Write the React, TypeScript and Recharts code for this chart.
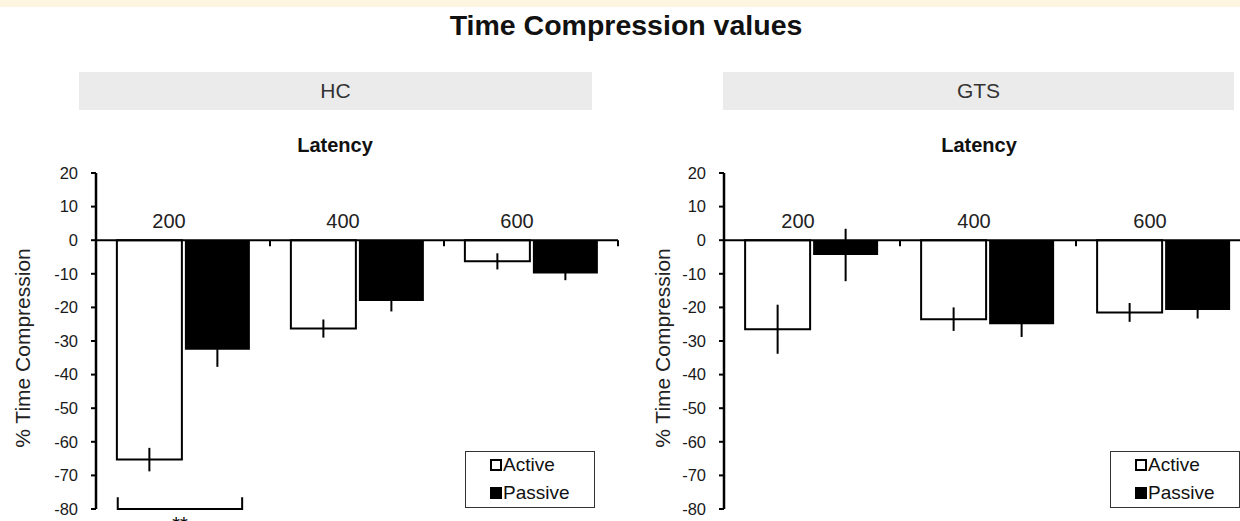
import {
  Bar,
  BarChart,
  ErrorBar,
  Legend,
  ReferenceArea,
  ReferenceLine,
  XAxis,
  YAxis,
} from "recharts";

const LATENCIES = ["200", "400", "600"];
const Y_TICKS = [20, 10, 0, -10, -20, -30, -40, -50, -60, -70, -80];
const Y_MIN = -80;
const Y_MAX = 20;

const HC_ACTIVE = [-65.3, -26.3, -6.3];
const HC_ACTIVE_ERR = [3.5, 2.7, 2.4];
const HC_PASSIVE = [-32.6, -18.1, -9.9];
const HC_PASSIVE_ERR = [5.1, 3.1, 2.0];

const GTS_ACTIVE = [-26.5, -23.5, -21.5];
const GTS_ACTIVE_ERR = [7.3, 3.5, 2.8];
const GTS_PASSIVE = [-4.4, -25.0, -20.8];
const GTS_PASSIVE_ERR = [7.8, 3.8, 2.5];

const CHART_H = 521;
const X_AXIS_H = 1;
const MARGIN_TOP = 172;
const MARGIN_BOTTOM = 12;
const MARGIN_RIGHT = 2;
const Y_AXIS_W = 60;
const PLOT_H = CHART_H - MARGIN_TOP - X_AXIS_H - MARGIN_BOTTOM;

const FONT = '"Liberation Sans", Arial, Helvetica, sans-serif';

type Row = {
  latency: string;
  active: number;
  activeErr: number;
  passive: number;
  passiveErr: number;
};

function buildRows(active: number[], activeErr: number[], passive: number[], passiveErr: number[]): Row[] {
  return LATENCIES.map((latency, i) => ({
    latency,
    active: active[i],
    activeErr: activeErr[i],
    passive: passive[i],
    passiveErr: passiveErr[i],
  }));
}

const hcRows = buildRows(HC_ACTIVE, HC_ACTIVE_ERR, HC_PASSIVE, HC_PASSIVE_ERR);
const gtsRows = buildRows(GTS_ACTIVE, GTS_ACTIVE_ERR, GTS_PASSIVE, GTS_PASSIVE_ERR);

// category labels sit just above the zero line, with a small tick at each band's right edge
function LatencyTick(props: any) {
  const { x, y, payload, band } = props;
  const zeroY = y + (Y_MAX / (Y_MAX - Y_MIN)) * PLOT_H;
  return (
    <g>
      <text x={x - 14} y={zeroY - 19} textAnchor="middle" dominantBaseline="central" fontSize={20} fill="#222">
        {payload.value}
      </text>
      <line x1={x + band / 2} x2={x + band / 2} y1={zeroY} y2={zeroY + 6} stroke="#000" strokeWidth={2} />
    </g>
  );
}

function YTitle(props: any) {
  const { viewBox, gap } = props;
  const cx = viewBox.x + viewBox.width - gap;
  const cy = viewBox.y + viewBox.height / 2 + 7;
  return (
    <text
      x={cx}
      y={cy}
      transform={`rotate(-90 ${cx} ${cy})`}
      textAnchor="middle"
      dominantBaseline="central"
      fontSize={21}
      fill="#222"
    >
      % Time Compression
    </text>
  );
}

function Bracket(props: any) {
  const { x, y, width, height } = props;
  const x1 = x + width * 0.125;
  const x2 = x + width * 0.84;
  const yb = y + height;
  return (
    <g>
      <path d={`M${x1},${y} V${yb} H${x2} V${y}`} fill="none" stroke="#000" strokeWidth={2} />
      <text x={(x1 + x2) / 2} y={yb + 22} textAnchor="middle" fontSize={20} fill="#000">
        **
      </text>
    </g>
  );
}

function LegendBox(props: any) {
  const payload = props.payload ?? [];
  return (
    <div
      style={{
        position: "relative",
        width: 130,
        height: 57,
        border: "1.5px solid #333",
        boxSizing: "border-box",
        background: "#fff",
        fontFamily: FONT,
      }}
    >
      {payload.map((entry: any, i: number) => (
        <div
          key={entry.value}
          style={{
            position: "absolute",
            left: 24,
            top: 2 + i * 28,
            height: 22,
            display: "flex",
            alignItems: "center",
            fontSize: 19,
            color: "#111",
          }}
        >
          <span
            style={{
              display: "inline-block",
              width: 12,
              height: 12,
              background: entry.color,
              border: "2px solid #000",
              boxSizing: "border-box",
              marginRight: 1,
            }}
          />
          {entry.value}
        </div>
      ))}
    </div>
  );
}

type PanelProps = {
  rows: Row[];
  left: number;
  width: number;
  marginLeft: number;
  titleGap: number;
  legendLeft: number;
  bracket?: boolean;
};

function Panel({ rows, left, width, marginLeft, titleGap, legendLeft, bracket }: PanelProps) {
  const band = (width - marginLeft - Y_AXIS_W - MARGIN_RIGHT) / LATENCIES.length;
  return (
    <div style={{ position: "absolute", left, top: 0 }}>
      <BarChart
        width={width}
        height={CHART_H}
        data={rows}
        margin={{ top: MARGIN_TOP, right: MARGIN_RIGHT, bottom: MARGIN_BOTTOM, left: marginLeft }}
        barGap={3}
        barCategoryGap="12%"
      >
        <XAxis
          dataKey="latency"
          orientation="top"
          height={X_AXIS_H}
          axisLine={false}
          tickLine={false}
          tickSize={0}
          tickMargin={0}
          interval={0}
          tick={<LatencyTick band={band} />}
        />
        <YAxis
          type="number"
          domain={[Y_MIN, Y_MAX]}
          ticks={Y_TICKS}
          interval={0}
          width={Y_AXIS_W}
          tickSize={5}
          tickMargin={13}
          axisLine={{ stroke: "#000", strokeWidth: 2.5 }}
          tickLine={{ stroke: "#000", strokeWidth: 2 }}
          tick={{ fill: "#1a1a1a", fontSize: 16.5 }}
          label={<YTitle gap={titleGap} />}
        />
        <Legend
          layout="horizontal"
          verticalAlign="middle"
          align="center"
          content={<LegendBox />}
          wrapperStyle={{ left: legendLeft, top: 451, width: 130, height: 57 }}
        />
        <Bar dataKey="active" name="Active" fill="#ffffff" stroke="#000" strokeWidth={2} isAnimationActive={false}>
          <ErrorBar dataKey="activeErr" width={0} stroke="#000" strokeWidth={2} />
        </Bar>
        <Bar dataKey="passive" name="Passive" fill="#000000" isAnimationActive={false}>
          <ErrorBar dataKey="passiveErr" width={0} stroke="#000" strokeWidth={2} />
        </Bar>
        <ReferenceLine y={0} stroke="#000" strokeWidth={2} />
        {bracket && (
          <ReferenceArea x1="200" x2="200" y1={-80} y2={-76.5} ifOverflow="visible" shape={<Bracket />} />
        )}
      </BarChart>
    </div>
  );
}

const headerStyle = {
  position: "absolute" as const,
  top: 72,
  height: 38,
  background: "#ebebeb",
  fontSize: 21,
  lineHeight: "38px",
  textAlign: "center" as const,
  color: "#333",
};

const latencyStyle = {
  position: "absolute" as const,
  top: 134,
  width: 200,
  fontSize: 20,
  fontWeight: 700,
  lineHeight: "22px",
  textAlign: "center" as const,
  color: "#111",
};

export default function App() {
  return (
    <div
      style={{
        position: "absolute",
        left: 0,
        top: 0,
        width: 1240,
        height: 521,
        overflow: "hidden",
        background: "#fff",
        fontFamily: FONT,
      }}
    >
      <div style={{ position: "absolute", left: 0, top: 0, width: 1240, height: 7, background: "#fdf5df" }} />
      <div
        style={{
          position: "absolute",
          left: 326,
          top: 10,
          width: 600,
          textAlign: "center",
          fontSize: 28.5,
          fontWeight: 700,
          lineHeight: "30px",
          color: "#111",
        }}
      >
        Time Compression values
      </div>
      <div style={{ ...headerStyle, left: 79, width: 513 }}>HC</div>
      <div style={{ ...headerStyle, left: 723, width: 511 }}>GTS</div>
      <div style={{ ...latencyStyle, left: 235 }}>Latency</div>
      <div style={{ ...latencyStyle, left: 879 }}>Latency</div>
      <Panel rows={hcRows} left={0} width={620} marginLeft={36} titleGap={74} legendLeft={465} bracket />
      <Panel rows={gtsRows} left={620} width={634} marginLeft={44} titleGap={62} legendLeft={490} />
    </div>
  );
}
